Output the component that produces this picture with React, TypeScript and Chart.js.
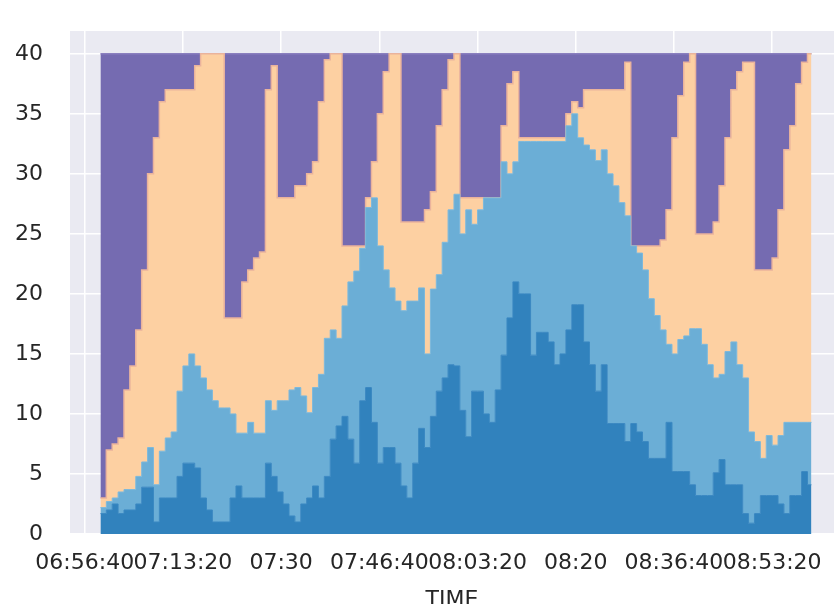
import { useEffect, useRef } from "react";
import { Chart, registerables } from "chart.js";

Chart.register(...registerables);

// Time axis (seconds after midnight), one sample per minute
const START_SEC = 25160; // 06:59:20
const STEP_SEC = 60;
const END_SEC = 32400; // 09:00:00
const X_TICKS = [25000, 26000, 27000, 28000, 29000, 30000, 31000, 32000];
const Y_TICKS = [0, 5, 10, 15, 20, 25, 30, 35, 40];
const CAPACITY = 40;

// Upper edge of each stacked band (cumulative count)
const DARK_TOP = [
  1.7, 2, 2.5, 1.7, 2, 2, 2.5, 3.9, 3.9, 1,
  3, 3, 3, 4.8, 5.9, 5.9, 5.5, 3, 2, 1,
  1, 1, 3, 4, 3, 3, 3, 3, 5.9, 4.8,
  3.5, 2.5, 1.5, 1, 2.5, 3, 4, 3, 4.8, 7.9,
  9, 9.8, 7.9, 5.9, 11.1, 12.2, 9.3, 5.9, 7.2, 7.2,
  5.9, 4, 3, 5.9, 8.8, 7.2, 9.8, 11.9, 13, 14.1,
  14, 10.3, 8.1, 11.9, 11.9, 10, 9.3, 12, 14.9, 18,
  21, 20, 20, 14.9, 16.8, 16.8, 16, 14.1, 15, 17,
  19.1, 19.1, 16, 14.1, 11.9, 14.1, 9.2, 9.2, 9.2, 7.7,
  9.2, 8.5, 7.7, 6.3, 6.3, 6.3, 9.3, 5.2, 5.2, 5.2,
  4.1, 3.2, 3.2, 3.2, 5.1, 6.2, 4.1, 4.1, 4.1, 1.7,
  0.9, 1.7, 3.2, 3.2, 3.2, 2.5, 1.7, 3.2, 3.2, 5.2,
  4.1,
];

const LIGHT_TOP = [
  2.2, 2.7, 3, 3.5, 3.7, 3.7, 4.8, 6, 7.2, 4.1,
  6.9, 8, 8.5, 11.9, 14, 15, 14, 13, 12, 11.1,
  10.5, 10.5, 10, 8.4, 8.4, 9.3, 8.4, 8.4, 11.1, 10.3,
  11.1, 11.1, 12, 12.2, 11.5, 10.1, 12.2, 13.3, 16.3, 17,
  16.3, 19, 21, 21.9, 23.8, 27.2, 28, 24, 22, 20.5,
  19.4, 18.6, 19.4, 19.4, 20.5, 15, 20.4, 21.6, 24.3, 27,
  28.3, 25, 27, 25.8, 27, 28, 28, 28, 31, 30,
  31, 32.7, 32.7, 32.7, 32.7, 32.7, 32.7, 32.7, 32.7, 34,
  35, 33, 32.4, 32, 31.1, 32, 30, 29, 27.6, 26.5,
  24, 23.4, 22, 19.6, 18.2, 17, 15.8, 15, 16.2, 16.5,
  17.1, 17.1, 15.8, 14.1, 13, 13.3, 15.2, 16, 14.1, 13,
  8.5, 7.7, 6.3, 8.2, 7.4, 8.2, 9.3, 9.3, 9.3, 9.3,
  9.3,
];

const PEACH_TOP = [
  3, 7, 7.5, 8, 12, 14, 17, 22, 30, 33,
  36, 37, 37, 37, 37, 37, 39, 40, 40, 40,
  40, 18, 18, 18, 21, 22, 23, 23.5, 37, 39,
  28, 28, 28, 29, 29, 30, 31, 36, 39.5, 40,
  40, 24, 24, 24, 24, 28, 31, 35, 38.5, 40,
  40, 26, 26, 26, 26, 27, 28.5, 34, 37, 39.5,
  40, 28, 28, 28, 28, 28, 28, 28, 34, 37.5,
  38.5, 33, 33, 33, 33, 33, 33, 33, 33, 35,
  36, 35.5, 37, 37, 37, 37, 37, 37, 37, 39.3,
  24, 24, 24, 24, 24, 24.5, 27, 33, 36.5, 39.3,
  40, 25, 25, 25, 26, 29, 33, 37, 38.5, 39.3,
  39.3, 22, 22, 22, 23, 27, 32, 34, 37.5, 39.3,
  40,
];

const COLORS = {
  dark: "#3182bd",
  light: "#6baed6",
  peach: "#fdd0a2",
  purple: "#756bb1",
};

function toPoints(values: number[]) {
  const pts = values.map((y, i) => ({ x: START_SEC + i * STEP_SEC, y }));
  pts.push({ x: END_SEC, y: values[values.length - 1] });
  return pts;
}

function fmtTime(sec: number) {
  const h = Math.floor(sec / 3600);
  const m = Math.floor((sec % 3600) / 60);
  const s = Math.round(sec % 60);
  const p = (n: number) => String(n).padStart(2, "0");
  return s === 0 ? `${p(h)}:${p(m)}` : `${p(h)}:${p(m)}:${p(s)}`;
}

const bgPlugin = {
  id: "axesBg",
  beforeDraw(chart: any) {
    const { ctx, chartArea } = chart;
    ctx.save();
    ctx.fillStyle = "#eaeaf2";
    ctx.fillRect(chartArea.left, chartArea.top, chartArea.right - chartArea.left, chartArea.bottom - chartArea.top);
    ctx.restore();
  },
};

export default function App() {
  const ref = useRef<HTMLCanvasElement | null>(null);

  useEffect(() => {
    if (!ref.current) return;
    const font = { family: "'DejaVu Sans', sans-serif", size: 22 };
    const common = {
      stepped: "before" as const,
      pointRadius: 0,
      pointHoverRadius: 0,
      tension: 0,
    };
    const chart = new Chart(ref.current, {
      type: "line",
      data: {
        datasets: [
          {
            ...common,
            label: "dark",
            data: toPoints(DARK_TOP),
            fill: "origin",
            backgroundColor: COLORS.dark,
            borderColor: "#3a88c2",
            borderWidth: 1,
          },
          {
            ...common,
            label: "light",
            data: toPoints(LIGHT_TOP),
            fill: "-1",
            backgroundColor: COLORS.light,
            borderColor: "#7db8da",
            borderWidth: 1,
          },
          {
            ...common,
            label: "peach",
            data: toPoints(PEACH_TOP),
            fill: "-1",
            backgroundColor: COLORS.peach,
            borderColor: "#eab39c",
            borderWidth: 1.5,
          },
          {
            ...common,
            label: "purple",
            data: toPoints(PEACH_TOP.map(() => CAPACITY)),
            fill: "-1",
            backgroundColor: COLORS.purple,
            borderColor: "#8a7fbf",
            borderWidth: 1.5,
          },
        ],
      },
      options: {
        animation: false,
        responsive: false,
        maintainAspectRatio: false,
        layout: { padding: { top: 31, left: 0, right: 0, bottom: 0 } },
        plugins: {
          legend: { display: false },
          tooltip: { enabled: false },
        },
        scales: {
          x: {
            type: "linear",
            min: 24850,
            max: 32630,
            afterBuildTicks: (scale: any) => {
              scale.ticks = X_TICKS.map((v) => ({ value: v }));
            },
            afterFit: (scale: any) => {
              scale.height = 86;
              scale.paddingLeft = 0;
              scale.paddingRight = 0;
            },
            ticks: {
              autoSkip: false,
              maxRotation: 0,
              minRotation: 0,
              padding: 16,
              color: "#262626",
              font,
              callback: (v: any) => fmtTime(Number(v)),
            },
            grid: { color: "#ffffff", lineWidth: 1.5, drawTicks: false },
            border: { display: false },
            title: {
              display: true,
              text: "TIME",
              color: "#262626",
              font,
              padding: { top: 0, bottom: 7 },
            },
          },
          y: {
            min: 0,
            max: 41.9,
            afterBuildTicks: (scale: any) => {
              scale.ticks = Y_TICKS.map((v) => ({ value: v }));
            },
            afterFit: (scale: any) => {
              scale.width = 70;
              scale.paddingTop = 0;
              scale.paddingBottom = 0;
            },
            ticks: {
              padding: 27,
              color: "#262626",
              font,
            },
            grid: { color: "#ffffff", lineWidth: 1.5, drawTicks: false },
            border: { display: false },
          },
        },
      },
      plugins: [bgPlugin],
    });
    return () => chart.destroy();
  }, []);

  return (
    <div style={{ position: "fixed", left: 0, top: 0, width: 834, height: 604, overflow: "hidden", background: "#fff" }}>
      <canvas ref={ref} width={834} height={620} style={{ display: "block" }} />
    </div>
  );
}
